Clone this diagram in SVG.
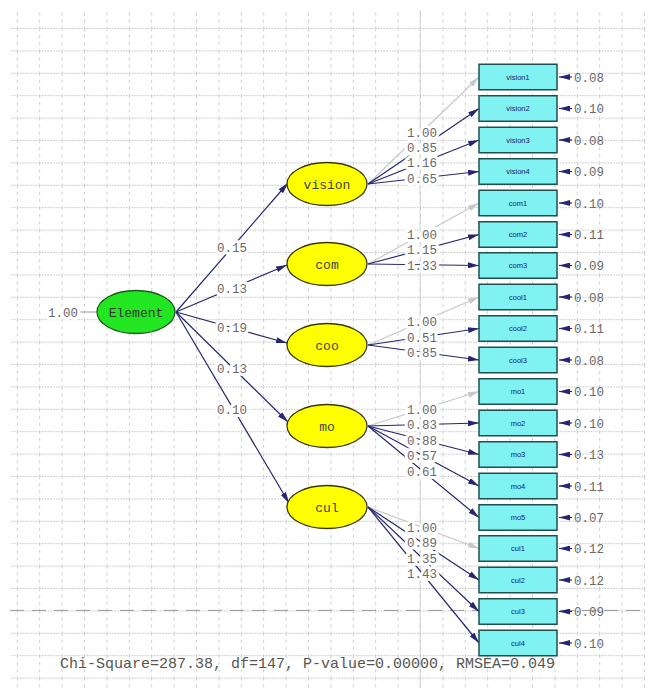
<svg xmlns="http://www.w3.org/2000/svg" width="650" height="690" viewBox="0 0 650 690">
<defs>
<pattern id="gridpat" x="16.8" y="28" width="22.4" height="22.4" patternUnits="userSpaceOnUse">
<line x1="0" y1="0.5" x2="22.4" y2="0.5" stroke="#b4b4b4" stroke-width="0.9" stroke-dasharray="1.4 1.4"/>
<line x1="0.5" y1="0" x2="0.5" y2="22.4" stroke="#c4c4c4" stroke-width="0.9" stroke-dasharray="3 4"/>
</pattern>
<marker id="arN" viewBox="0 0 11 6" refX="11" refY="3" markerWidth="11" markerHeight="6" markerUnits="userSpaceOnUse" orient="auto">
<path d="M0,0 L11,3 L0,6 Z" fill="#262672"/>
</marker>
<marker id="arG" viewBox="0 0 11 6" refX="11" refY="3" markerWidth="11" markerHeight="6" markerUnits="userSpaceOnUse" orient="auto">
<path d="M0,0 L11,3 L0,6 Z" fill="#c8c8c8"/>
</marker>
</defs>
<style>
.num{font-family:"Liberation Mono","DejaVu Sans Mono",monospace;font-size:12.5px;fill:#6a6a6a;paint-order:stroke;stroke:#ffffff;stroke-width:6px;stroke-linejoin:round}
.err{font-family:"Liberation Mono","DejaVu Sans Mono",monospace;font-size:12.5px;fill:#6a6a6a}
.lat{fill:#ffff00;stroke:#3a3a10;stroke-width:1.3}
.lt{font-family:"Liberation Mono","DejaVu Sans Mono",monospace;font-size:13px;fill:#444444;text-anchor:middle}
.box{fill:#80f2f2;stroke:#1f4f50;stroke-width:1.5}
.bt{font-family:"Liberation Sans",Arial,sans-serif;font-size:7.5px;fill:#1a1a66;text-anchor:middle}
.pn{stroke:#262672;stroke-width:1.2;fill:none;marker-end:url(#arN)}
.pg{stroke:#c8c8c8;stroke-width:1.2;fill:none;marker-end:url(#arG)}
</style>
<rect x="0" y="0" width="650" height="690" fill="#ffffff"/>
<g id="grid">
<rect x="10" y="10" width="635" height="678" fill="url(#gridpat)"/>
<line x1="420" y1="10" x2="420" y2="688" stroke="#d4d4d4" stroke-width="1"/>
<line x1="10" y1="610.4" x2="645" y2="610.4" stroke="#999999" stroke-width="1" stroke-dasharray="14 8"/>
</g>
<g id="connectors">
<line x1="79" y1="312" x2="97" y2="312" stroke="#999999" stroke-width="1"/>
<line class="pn" x1="176" y1="312" x2="288" y2="183"/>
<line class="pn" x1="176" y1="312" x2="287" y2="265"/>
<line class="pn" x1="176" y1="312" x2="287" y2="343"/>
<line class="pn" x1="176" y1="312" x2="288" y2="422"/>
<line class="pn" x1="176" y1="312" x2="289" y2="503"/>
<line class="pg" x1="368" y1="184" x2="479" y2="77"/>
<line class="pn" x1="368" y1="184" x2="479" y2="108.5"/>
<line class="pn" x1="368" y1="184" x2="479" y2="140"/>
<line class="pn" x1="368" y1="184" x2="479" y2="171.5"/>
<line class="pg" x1="368" y1="264" x2="479" y2="203"/>
<line class="pn" x1="368" y1="264" x2="479" y2="234.5"/>
<line class="pn" x1="368" y1="264" x2="479" y2="265.5"/>
<line class="pg" x1="368" y1="345" x2="479" y2="297"/>
<line class="pn" x1="368" y1="345" x2="479" y2="328.5"/>
<line class="pn" x1="368" y1="345" x2="479" y2="360"/>
<line class="pg" x1="368" y1="426" x2="479" y2="391.5"/>
<line class="pn" x1="368" y1="426" x2="479" y2="423"/>
<line class="pn" x1="368" y1="426" x2="479" y2="454.5"/>
<line class="pn" x1="368" y1="426" x2="479" y2="486"/>
<line class="pn" x1="368" y1="426" x2="479" y2="517.5"/>
<line class="pg" x1="368" y1="507" x2="479" y2="548.5"/>
<line class="pn" x1="368" y1="507" x2="479" y2="580"/>
<line class="pn" x1="368" y1="507" x2="479" y2="611.5"/>
<line class="pn" x1="368" y1="507" x2="479" y2="643"/>
<g class="errs">
<line class="pn" x1="572" y1="77" x2="559" y2="77"/>
<line class="pn" x1="572" y1="108.5" x2="559" y2="108.5"/>
<line class="pn" x1="572" y1="140" x2="559" y2="140"/>
<line class="pn" x1="572" y1="171.5" x2="559" y2="171.5"/>
<line class="pn" x1="572" y1="203" x2="559" y2="203"/>
<line class="pn" x1="572" y1="234.5" x2="559" y2="234.5"/>
<line class="pn" x1="572" y1="265.5" x2="559" y2="265.5"/>
<line class="pn" x1="572" y1="297" x2="559" y2="297"/>
<line class="pn" x1="572" y1="328.5" x2="559" y2="328.5"/>
<line class="pn" x1="572" y1="360" x2="559" y2="360"/>
<line class="pn" x1="572" y1="391.5" x2="559" y2="391.5"/>
<line class="pn" x1="572" y1="423" x2="559" y2="423"/>
<line class="pn" x1="572" y1="454.5" x2="559" y2="454.5"/>
<line class="pn" x1="572" y1="486" x2="559" y2="486"/>
<line class="pn" x1="572" y1="517.5" x2="559" y2="517.5"/>
<line class="pn" x1="572" y1="548.5" x2="559" y2="548.5"/>
<line class="pn" x1="572" y1="580" x2="559" y2="580"/>
<line class="pn" x1="572" y1="611.5" x2="559" y2="611.5"/>
<line class="pn" x1="572" y1="643" x2="559" y2="643"/>
</g>
<g class="plabels">
<text class="num" x="48" y="316.5">1.00</text>
<text class="num" x="232" y="252" text-anchor="middle">0.15</text>
<text class="num" x="232" y="293" text-anchor="middle">0.13</text>
<text class="num" x="232" y="332" text-anchor="middle">0.19</text>
<text class="num" x="232" y="373" text-anchor="middle">0.13</text>
<text class="num" x="232" y="414" text-anchor="middle">0.10</text>
<text class="num" x="422" y="136.5" text-anchor="middle">1.00</text>
<text class="num" x="422" y="151.5" text-anchor="middle">0.85</text>
<text class="num" x="422" y="166.5" text-anchor="middle">1.16</text>
<text class="num" x="422" y="182.5" text-anchor="middle">0.65</text>
<text class="num" x="422" y="239" text-anchor="middle">1.00</text>
<text class="num" x="422" y="254" text-anchor="middle">1.15</text>
<text class="num" x="422" y="269.5" text-anchor="middle">1.33</text>
<text class="num" x="422" y="326" text-anchor="middle">1.00</text>
<text class="num" x="422" y="341.5" text-anchor="middle">0.51</text>
<text class="num" x="422" y="357" text-anchor="middle">0.85</text>
<text class="num" x="422" y="413.5" text-anchor="middle">1.00</text>
<text class="num" x="422" y="429" text-anchor="middle">0.83</text>
<text class="num" x="422" y="444.5" text-anchor="middle">0.88</text>
<text class="num" x="422" y="460" text-anchor="middle">0.57</text>
<text class="num" x="422" y="475.5" text-anchor="middle">0.61</text>
<text class="num" x="422" y="531.5" text-anchor="middle">1.00</text>
<text class="num" x="422" y="547" text-anchor="middle">0.89</text>
<text class="num" x="422" y="562.5" text-anchor="middle">1.35</text>
<text class="num" x="422" y="577.5" text-anchor="middle">1.43</text>
</g>
</g>
<g id="Element">
<ellipse cx="136" cy="312" rx="39" ry="21.5" fill="#22e622" stroke="#1d5a1d" stroke-width="1.3"/>
<text class="lt" x="136" y="316.5" style="fill:#333333">Element</text>
</g>
<g id="vision"><ellipse class="lat" cx="327" cy="184" rx="40" ry="21.5"/><text class="lt" x="327" y="188.5">vision</text></g>
<g id="com"><ellipse class="lat" cx="327" cy="264" rx="40" ry="21.5"/><text class="lt" x="327" y="268.5">com</text></g>
<g id="coo"><ellipse class="lat" cx="327" cy="345" rx="40" ry="21.5"/><text class="lt" x="327" y="349.5">coo</text></g>
<g id="mo"><ellipse class="lat" cx="327" cy="426" rx="40" ry="21.5"/><text class="lt" x="327" y="430.5">mo</text></g>
<g id="cul"><ellipse class="lat" cx="327" cy="507" rx="40" ry="21.5"/><text class="lt" x="327" y="511.5">cul</text></g>
<g id="vision1"><rect class="box" x="479" y="64.25" width="78" height="25.5"/><text class="bt" x="518" y="79.7">vision1</text><text class="err" x="574" y="81.5">0.08</text></g>
<g id="vision2"><rect class="box" x="479" y="95.75" width="78" height="25.5"/><text class="bt" x="518" y="111.2">vision2</text><text class="err" x="574" y="113">0.10</text></g>
<g id="vision3"><rect class="box" x="479" y="127.25" width="78" height="25.5"/><text class="bt" x="518" y="142.7">vision3</text><text class="err" x="574" y="144.5">0.08</text></g>
<g id="vision4"><rect class="box" x="479" y="158.75" width="78" height="25.5"/><text class="bt" x="518" y="174.2">vision4</text><text class="err" x="574" y="176">0.09</text></g>
<g id="com1"><rect class="box" x="479" y="190.25" width="78" height="25.5"/><text class="bt" x="518" y="205.7">com1</text><text class="err" x="574" y="207.5">0.10</text></g>
<g id="com2"><rect class="box" x="479" y="221.75" width="78" height="25.5"/><text class="bt" x="518" y="237.2">com2</text><text class="err" x="574" y="239">0.11</text></g>
<g id="com3"><rect class="box" x="479" y="252.75" width="78" height="25.5"/><text class="bt" x="518" y="268.2">com3</text><text class="err" x="574" y="270">0.09</text></g>
<g id="cool1"><rect class="box" x="479" y="284.25" width="78" height="25.5"/><text class="bt" x="518" y="299.7">cool1</text><text class="err" x="574" y="301.5">0.08</text></g>
<g id="cool2"><rect class="box" x="479" y="315.75" width="78" height="25.5"/><text class="bt" x="518" y="331.2">cool2</text><text class="err" x="574" y="333">0.11</text></g>
<g id="cool3"><rect class="box" x="479" y="347.25" width="78" height="25.5"/><text class="bt" x="518" y="362.7">cool3</text><text class="err" x="574" y="364.5">0.08</text></g>
<g id="mo1"><rect class="box" x="479" y="378.75" width="78" height="25.5"/><text class="bt" x="518" y="394.2">mo1</text><text class="err" x="574" y="396">0.10</text></g>
<g id="mo2"><rect class="box" x="479" y="410.25" width="78" height="25.5"/><text class="bt" x="518" y="425.7">mo2</text><text class="err" x="574" y="427.5">0.10</text></g>
<g id="mo3"><rect class="box" x="479" y="441.75" width="78" height="25.5"/><text class="bt" x="518" y="457.2">mo3</text><text class="err" x="574" y="459">0.13</text></g>
<g id="mo4"><rect class="box" x="479" y="473.25" width="78" height="25.5"/><text class="bt" x="518" y="488.7">mo4</text><text class="err" x="574" y="490.5">0.11</text></g>
<g id="mo5"><rect class="box" x="479" y="504.75" width="78" height="25.5"/><text class="bt" x="518" y="520.2">mo5</text><text class="err" x="574" y="522">0.07</text></g>
<g id="cul1"><rect class="box" x="479" y="535.75" width="78" height="25.5"/><text class="bt" x="518" y="551.2">cul1</text><text class="err" x="574" y="553">0.12</text></g>
<g id="cul2"><rect class="box" x="479" y="567.25" width="78" height="25.5"/><text class="bt" x="518" y="582.7">cul2</text><text class="err" x="574" y="584.5">0.12</text></g>
<g id="cul3"><rect class="box" x="479" y="598.75" width="78" height="25.5"/><text class="bt" x="518" y="614.2">cul3</text><text class="err" x="574" y="616">0.09</text></g>
<g id="cul4"><rect class="box" x="479" y="630.25" width="78" height="25.5"/><text class="bt" x="518" y="645.7">cul4</text><text class="err" x="574" y="647.5">0.10</text></g>
<text x="60" y="668" style="font-family:'Liberation Mono','DejaVu Sans Mono',monospace;font-size:15px;fill:#555555">Chi-Square=287.38, df=147, P-value=0.00000, RMSEA=0.049</text>
</svg>
